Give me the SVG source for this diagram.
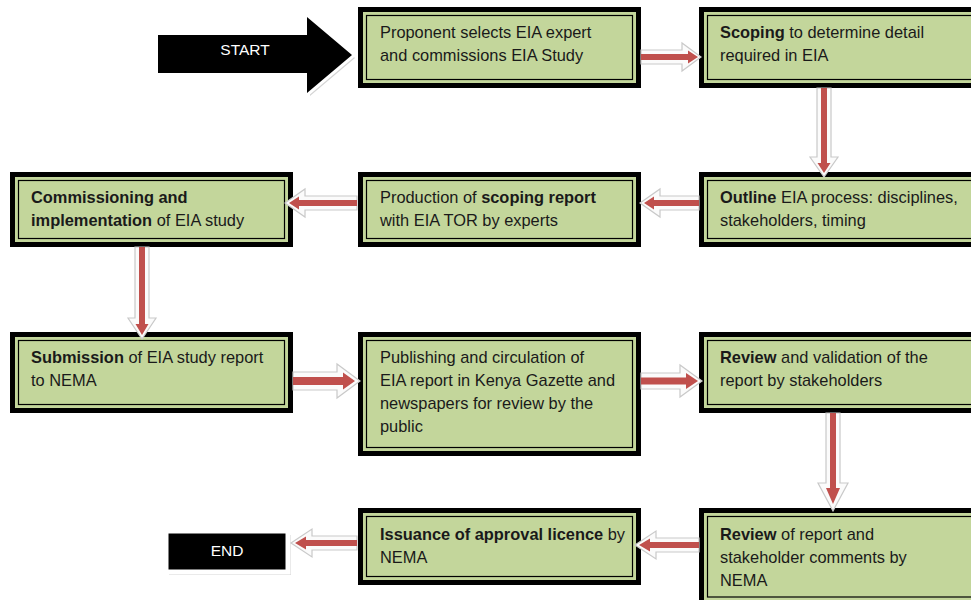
<svg xmlns="http://www.w3.org/2000/svg" width="971" height="600" viewBox="0 0 971 600">
<style>
.ob{fill:#000}
.ig{fill:#c3d69b}
.il{fill:none;stroke:#000;stroke-width:1.2}
.t{font-family:"Liberation Sans",Arial,sans-serif;font-size:16.4px;fill:#1a1a1a}
.b{font-weight:bold}
.w{font-family:"Liberation Sans",Arial,sans-serif;font-size:15.5px;fill:#fff;text-anchor:middle}
.ao{fill:#fbfbfb;stroke:#c9c9c9;stroke-width:1.2}
.ai{fill:#c0504d}
</style>
<rect width="971" height="600" fill="#fff"/>

<g id="start">
<polygon points="161,38 310,38 310,20 355,58 310,96 310,76 161,76" fill="#d4d4d4"/>
<polygon points="158,35 307,35 307,17 352,55 307,93 307,73 158,73" fill="#000" stroke="#fff" stroke-width="6" stroke-linejoin="miter"/>
<polygon points="158,35 307,35 307,17 352,55 307,93 307,73 158,73" fill="#000"/>
<text class="w" x="245" y="55">START</text>
</g>

<g id="n1">
<rect class="ob" x="358" y="7" width="283" height="81"/>
<rect class="ig" x="363" y="12" width="273" height="71"/>
<rect class="il" x="366.5" y="15.5" width="266" height="64"/>
<text class="t" x="380" y="38">Proponent selects EIA expert</text>
<text class="t" x="380" y="61">and commissions EIA Study</text>
</g>

<g id="n2">
<rect class="ob" x="699" y="7" width="280" height="81"/>
<rect class="ig" x="704" y="12" width="275" height="71"/>
<rect class="il" x="707.5" y="15.5" width="280" height="64"/>
<text class="t" x="720" y="38"><tspan class="b">Scoping</tspan> to determine detail</text>
<text class="t" x="720" y="61">required in EIA</text>
</g>

<g id="n3">
<rect class="ob" x="10" y="172" width="283" height="75"/>
<rect class="ig" x="15" y="177" width="273" height="65"/>
<rect class="il" x="18.5" y="180.5" width="266" height="58"/>
<text class="t" x="31" y="203"><tspan class="b">Commissioning and</tspan></text>
<text class="t" x="31" y="226"><tspan class="b">implementation</tspan> of EIA study</text>
</g>

<g id="n4">
<rect class="ob" x="358" y="172" width="283" height="75"/>
<rect class="ig" x="363" y="177" width="273" height="65"/>
<rect class="il" x="366.5" y="180.5" width="266" height="58"/>
<text class="t" x="380" y="203">Production of <tspan class="b">scoping report</tspan></text>
<text class="t" x="380" y="226">with EIA TOR by experts</text>
</g>

<g id="n5">
<rect class="ob" x="699" y="172" width="280" height="75"/>
<rect class="ig" x="704" y="177" width="275" height="65"/>
<rect class="il" x="707.5" y="180.5" width="280" height="58"/>
<text class="t" x="720" y="203"><tspan class="b">Outline</tspan> EIA process: disciplines,</text>
<text class="t" x="720" y="226">stakeholders, timing</text>
</g>

<g id="n6">
<rect class="ob" x="10" y="332" width="283" height="81"/>
<rect class="ig" x="15" y="337" width="273" height="71"/>
<rect class="il" x="18.5" y="340.5" width="266" height="64"/>
<text class="t" x="31" y="363"><tspan class="b">Submission</tspan> of EIA study report</text>
<text class="t" x="31" y="386">to NEMA</text>
</g>

<g id="n7">
<rect class="ob" x="358" y="332" width="283" height="124"/>
<rect class="ig" x="363" y="337" width="273" height="114"/>
<rect class="il" x="366.5" y="340.5" width="266" height="107"/>
<text class="t" x="380" y="363">Publishing and circulation of</text>
<text class="t" x="380" y="386">EIA report in Kenya Gazette and</text>
<text class="t" x="380" y="409">newspapers for review by the</text>
<text class="t" x="380" y="432">public</text>
</g>

<g id="n8">
<rect class="ob" x="699" y="332" width="280" height="81"/>
<rect class="ig" x="704" y="337" width="275" height="71"/>
<rect class="il" x="707.5" y="340.5" width="280" height="64"/>
<text class="t" x="720" y="363"><tspan class="b">Review</tspan> and validation of the</text>
<text class="t" x="720" y="386">report by stakeholders</text>
</g>

<g id="n9">
<rect class="ob" x="358" y="508" width="283" height="77"/>
<rect class="ig" x="363" y="513" width="273" height="67"/>
<rect class="il" x="366.5" y="516.5" width="266" height="60"/>
<text class="t" x="380" y="540"><tspan class="b">Issuance of approval licence</tspan> by</text>
<text class="t" x="380" y="563">NEMA</text>
</g>

<g id="n10">
<rect class="ob" x="699" y="508" width="280" height="100"/>
<rect class="ig" x="704" y="513" width="275" height="90"/>
<rect class="il" x="707.5" y="516.5" width="280" height="80.5"/>
<text class="t" x="720" y="540"><tspan class="b">Review</tspan> of report and</text>
<text class="t" x="720" y="563">stakeholder comments by</text>
<text class="t" x="720" y="586">NEMA</text>
</g>

<g id="end">
<rect x="169" y="535" width="122" height="40" fill="#d4d4d4"/>
<rect x="166" y="531" width="122" height="41" fill="#000" stroke="#fff" stroke-width="5"/>
<text class="w" x="227" y="556">END</text>
</g>

<g id="connectors">
<polygon class="ao" points="641,50 682,50 682,43 701,57 682,71 682,64 641,64"/>
<polygon class="ai" points="641,54 688,54 688,50.5 698,57 688,63.5 688,60 641,60"/>
<polygon class="ao" points="817,88 831,88 831,157 838,157 824,177 810,157 817,157"/>
<polygon class="ai" points="821,88 827,88 827,163 830.5,163 824,173 817.5,163 821,163"/>
<polygon class="ao" points="699,196 660,196 660,189 640,203 660,217 660,210 699,210"/>
<polygon class="ai" points="699,200 654,200 654,196.5 644,203 654,209.5 654,206 699,206"/>
<polygon class="ao" points="357,196 305,196 305,189 285,203 305,217 305,210 357,210"/>
<polygon class="ai" points="357,200 299,200 299,196.5 289,203 299,209.5 299,206 357,206"/>
<polygon class="ao" points="135,247 149,247 149,318 156,318 142,339 128,318 135,318"/>
<polygon class="ai" points="139,247 145,247 145,324 148.5,324 142,335 135.5,324 139,324"/>
<polygon class="ao" points="293,372 337,372 337,364 360,381 337,398 337,390 293,390"/>
<polygon class="ai" points="293,377 343,377 343,372.5 355,381 343,389.5 343,385 293,385"/>
<polygon class="ao" points="641,373 680,373 680,365 702,381 680,397 680,389 641,389"/>
<polygon class="ai" points="641,377.5 686,377.5 686,373 698,381 686,389 686,384.5 641,384.5"/>
<polygon class="ao" points="826,413 840,413 840,483 848,483 833,511 818,483 826,483"/>
<polygon class="ai" points="830,413 836,413 836,488 840,488 833,504 826,488 830,488"/>
<polygon class="ao" points="699,538 656,538 656,531 635,545 656,559 656,552 699,552"/>
<polygon class="ai" points="699,542 650,542 650,538.5 639,545 650,551.5 650,548 699,548"/>
<polygon class="ao" points="357,536 312,536 312,529 291,543 312,557 312,550 357,550"/>
<polygon class="ai" points="357,540 306,540 306,536.5 295,543 306,549.5 306,546 357,546"/>
</g>
</svg>
